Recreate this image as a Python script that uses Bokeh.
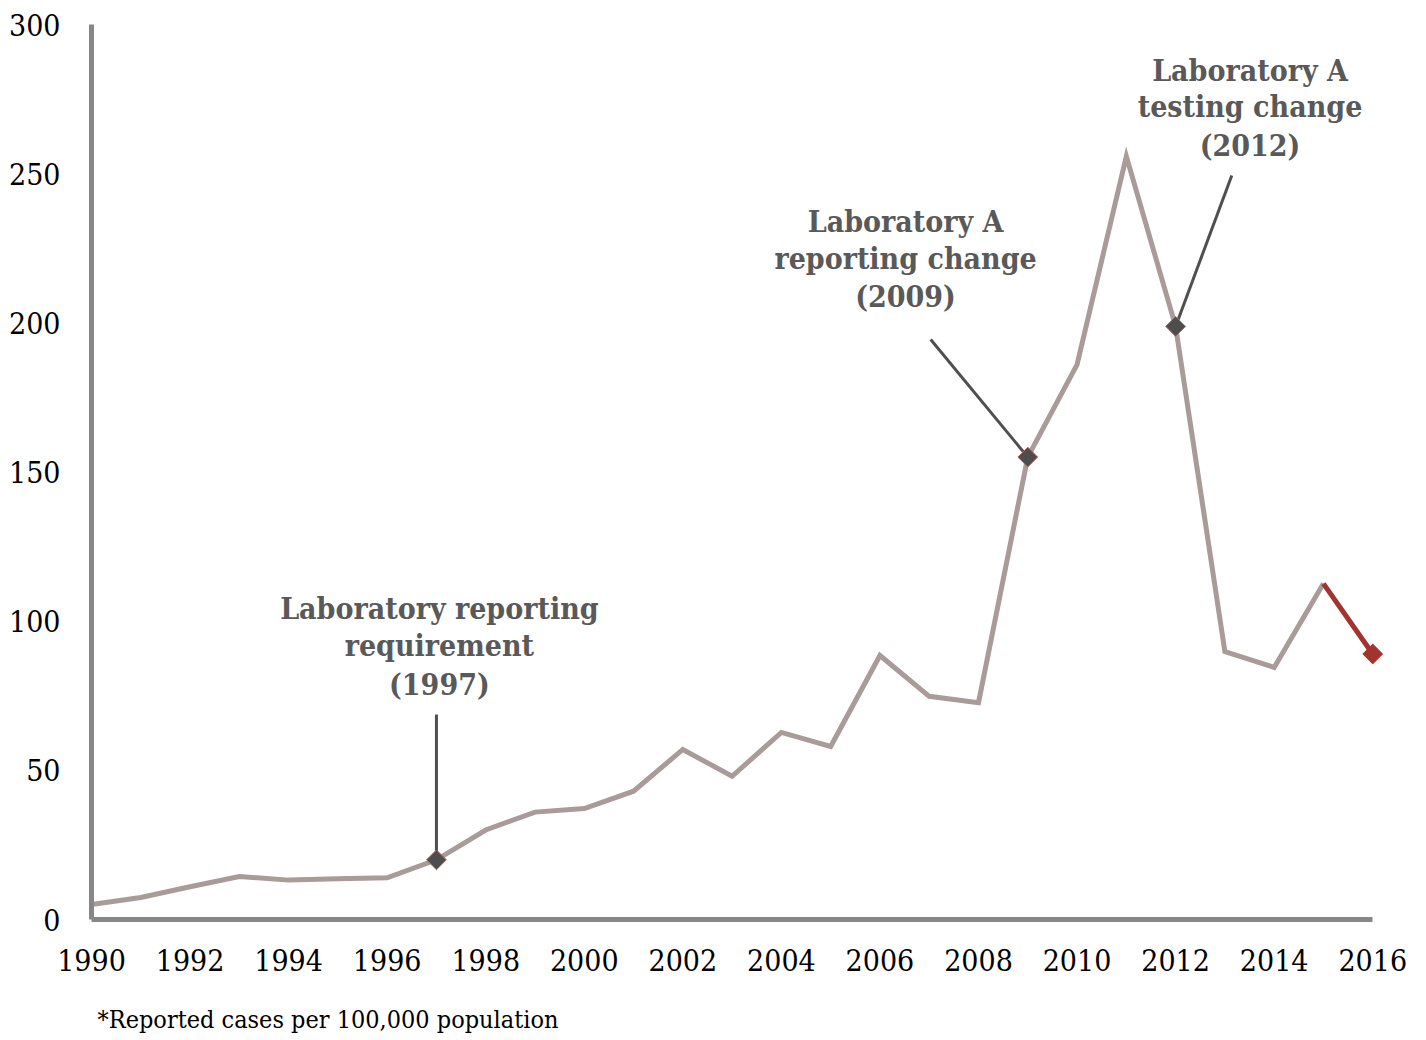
import numpy as np
from bokeh.plotting import figure
from bokeh.models import FixedTicker, Range1d, Title
from bokeh.core.properties import value
from bokeh.embed import file_html
from bokeh.resources import INLINE

# ---- data ----
years = [1990, 1991, 1992, 1993, 1994, 1995, 1996, 1997, 1998, 1999, 2000,
         2001, 2002, 2003, 2004, 2005, 2006, 2007, 2008, 2009, 2010, 2011,
         2012, 2013, 2014, 2015]
rates = [5.0, 7.4, 11.0, 14.4, 13.2, 13.7, 14.0, 20.0, 30.0, 36.0, 37.2,
         43.0, 57.0, 48.0, 62.7, 58.0, 88.5, 74.8, 72.7, 155.0, 186.0, 255.8,
         198.8, 89.8, 84.5, 112.6]
recent_years = [2015, 2016]
recent_rates = [112.6, 89.0]

event_years = [1997, 2009, 2012]
event_rates = [20.0, 155.0, 198.8]
event_labels = [["Laboratory reporting", "requirement", "(1997)"],
                ["Laboratory A", "reporting change", "(2009)"],
                ["Laboratory A", "testing change", "(2012)"]]

x_ticks = list(range(1990, 2017, 2))
y_ticks = [0, 50, 100, 150, 200, 250, 300]
footnote = "*Reported cases per 100,000 population"

# ---- styling / layout ----
FONT = "DejaVu Serif Condensed"
label_pos = [(1997.06, [104.3, 91.9, 78.8], (1997.0, 68.7)),
             (2006.52, [234.0, 221.6, 208.9], (2007.03, 194.4)),
             (2013.51, [284.6, 272.5, 259.5], (2013.14, 249.4))]

p = figure(width=1410, height=1040, output_backend="svg", toolbar_location=None,
           x_range=Range1d(1990, 2016.3), y_range=Range1d(0, 300),
           min_border_left=91, min_border_top=24, min_border_right=23,
           min_border_bottom=121)
p.outline_line_color = None
p.grid.visible = False
p.background_fill_color = "white"

for ax in (p.xaxis[0], p.yaxis[0]):
    ax.axis_line_color = "#878787"
    ax.axis_line_width = 5
    ax.major_tick_line_color = None
    ax.minor_tick_line_color = None
    ax.major_label_text_font = FONT
    ax.major_label_text_font_size = "30px"
    ax.major_label_text_color = "black"

xa = p.xaxis[0]
xa.ticker = FixedTicker(ticks=x_ticks)
xa.bounds = (1990, 2016)
xa.major_label_standoff = 23
p.yaxis[0].ticker = FixedTicker(ticks=y_ticks)
p.yaxis[0].major_label_standoff = 25

# footnote below the axis (leading blank line pushes it to the bottom of its panel)
t = Title(text="\n" + footnote, align="left", offset=6, standoff=0,
          vertical_align="bottom",
          text_font=FONT, text_font_size="25px", text_font_style="normal",
          text_color="black")
p.add_layout(t, "below")

# main series
p.line(years, rates, line_color="#a99b99", line_width=5, line_join="miter")
p.line(recent_years, recent_rates, line_color="#a3332f", line_width=5)
p.scatter([recent_years[-1]], [recent_rates[-1]], marker="square", angle=np.pi / 4,
          size=14, fill_color="#a3332f", line_color="#a3332f")

# leader lines and annotations
for (ey, er, lines, (tx, tys, (lx, ly))) in zip(event_years, event_rates, event_labels, label_pos):
    p.line([lx, ey], [ly, er], line_color="#4f4f4f", line_width=3)
    p.text([tx] * len(lines), tys, text=lines, text_font=value(FONT),
           text_font_style="bold", text_font_size="30px", text_color="#595959",
           text_align="center", text_baseline="middle")

p.scatter(event_years, event_rates, marker="square", angle=np.pi / 4, size=14,
          fill_color="#4d4d4d", line_color="#c06060", line_width=1)

open("out.html", "w").write(file_html(p, INLINE))
